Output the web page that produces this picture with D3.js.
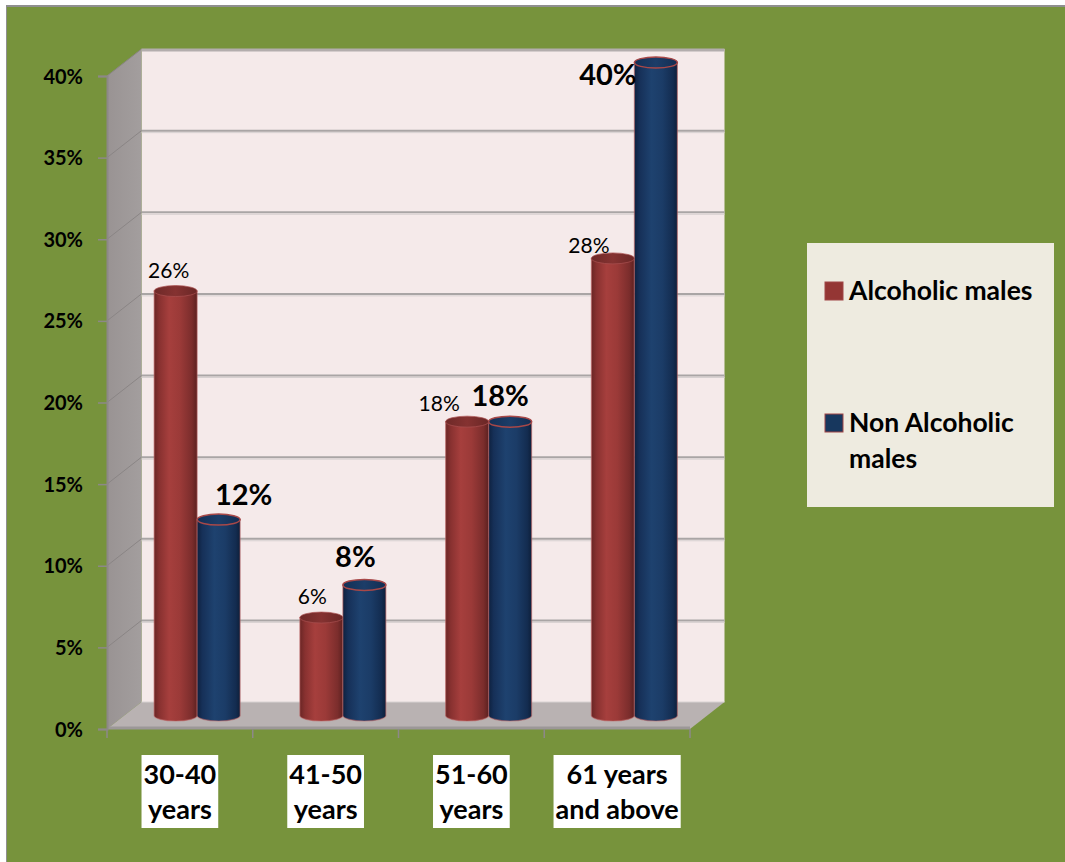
<!DOCTYPE html>
<html>
<head>
<meta charset="utf-8">
<script src="https://cdn.jsdelivr.net/npm/d3@7"></script>
<style>
  html, body { margin: 0; padding: 0; background: #ffffff; }
  svg { display: block; font-family: Lato, "Open Sans", sans-serif; }
</style>
</head>
<body>
<svg id="chart" width="1065" height="862"></svg>
<script>
// Age groups and the share of each group, per series (percent)
const categories = [["30-40", "years"], ["41-50", "years"], ["51-60", "years"], ["61 years", "and above"]];
const seriesNames = ["Alcoholic males", "Non Alcoholic males"];
const alcoholic = [26, 6, 18, 28];
const nonAlcoholic = [12, 8, 18, 40];
const yTicks = [0, 5, 10, 15, 20, 25, 30, 35, 40];

// Label placement tweaks relative to each cylinder's top (px)
const alcLabelNudge = [[-7, -13], [-9, -14], [-28, -11], [-24, -5]];
const nonLabelNudge = [[25, -15], [-9, -18], [-10, -16], [-48, 22]];

const svg = d3.select("#chart");
const W = 1065, H = 862;

// Frame: grey hairline on top/left, olive green fill
svg.append("rect").attr("x", 0).attr("y", 0).attr("width", W).attr("height", H).attr("fill", "#ffffff");
svg.append("rect").attr("x", 6).attr("y", 5).attr("width", W - 6).attr("height", H - 5).attr("fill", "#8f8f8f");
svg.append("rect").attr("x", 7).attr("y", 7).attr("width", W - 7).attr("height", H - 7).attr("fill", "#77933c");

// Plot geometry (front plane + depth offset)
const fx0 = 107, fx1 = 690;
const depthX = 34.5, depthY = -27;
const y = d3.scaleLinear().domain([0, 40]).range([729, 76]);
const x = d3.scaleBand().domain(d3.range(categories.length)).range([fx0, fx1]);
const bw = x.bandwidth();
const cylW = 43;
const xs = d3.scaleBand().domain(d3.range(seriesNames.length)).range([bw / 2 - cylW, bw / 2 + cylW]);
const midX = depthX / 2, midY = depthY / 2;

const defs = svg.append("defs");
function hGrad(id, stops) {
  const g = defs.append("linearGradient").attr("id", id).attr("x1", 0).attr("x2", 1).attr("y1", 0).attr("y2", 0);
  stops.forEach(([o, c]) => g.append("stop").attr("offset", o).attr("stop-color", c));
}
hGrad("redBody", [[0, "#6a2625"], [0.12, "#883130"], [0.35, "#a63f3d"], [0.6, "#9b3a38"], [0.88, "#7b2d2c"], [1, "#5c2120"]]);
hGrad("blueBody", [[0, "#0e213f"], [0.12, "#163058"], [0.4, "#1e426f"], [0.65, "#1b3c67"], [0.9, "#132c50"], [1, "#0d1f3a"]]);
hGrad("redTop", [[0, "#6e2928"], [0.5, "#853231"], [1, "#6a2726"]]);
hGrad("blueTop", [[0, "#142f55"], [0.5, "#1c3d68"], [1, "#132d52"]]);
hGrad("sideWall", [[0, "#999393"], [1, "#a39e9e"]]);

// Back wall
svg.append("rect")
  .attr("x", fx0 + depthX).attr("y", y(40) + depthY)
  .attr("width", fx1 - fx0).attr("height", y(0) - y(40))
  .attr("fill", "#f5eaea");
// top edge of back wall
svg.append("line")
  .attr("x1", fx0 + depthX).attr("x2", fx1 + depthX)
  .attr("y1", y(40) + depthY + 1).attr("y2", y(40) + depthY + 1)
  .attr("stroke", "#b3adad").attr("stroke-width", 3);

// Side wall
svg.append("path")
  .attr("d", `M${fx0},${y(0)} L${fx0},${y(40)} L${fx0 + depthX},${y(40) + depthY} L${fx0 + depthX},${y(0) + depthY} Z`)
  .attr("fill", "url(#sideWall)");

// Floor
svg.append("path")
  .attr("d", `M${fx0},${y(0)} L${fx1},${y(0)} L${fx1 + depthX},${y(0) + depthY} L${fx0 + depthX},${y(0) + depthY} Z`)
  .attr("fill", "#b9b2b2");
svg.append("line")
  .attr("x1", fx0).attr("x2", fx1).attr("y1", y(0) - 1).attr("y2", y(0) - 1)
  .attr("stroke", "#9c9797").attr("stroke-width", 3);
svg.append("line")
  .attr("x1", fx0 + depthX).attr("x2", fx1 + depthX).attr("y1", y(0) + depthY).attr("y2", y(0) + depthY)
  .attr("stroke", "#d8d2d2").attr("stroke-width", 1);

// Gridlines on back wall and side wall
const grid = svg.append("g");
yTicks.filter(v => v > 0 && v < 40).forEach(v => {
  grid.append("line")
    .attr("x1", fx0 + depthX).attr("x2", fx1 + depthX)
    .attr("y1", y(v) + depthY).attr("y2", y(v) + depthY)
    .attr("stroke", "#a9a5a5").attr("stroke-width", 2);
  grid.append("line")
    .attr("x1", fx0 + depthX).attr("x2", fx1 + depthX)
    .attr("y1", y(v) + depthY + 2).attr("y2", y(v) + depthY + 2)
    .attr("stroke", "#d6d0d0").attr("stroke-width", 1);
});
yTicks.filter(v => v > 0).forEach(v => {
  grid.append("line")
    .attr("x1", fx0).attr("x2", fx0 + depthX)
    .attr("y1", y(v)).attr("y2", y(v) + depthY)
    .attr("stroke", "#8a8585").attr("stroke-width", 1);
});

// Value axis
const yAxis = d3.axisLeft(y).tickValues(yTicks).tickSize(9).tickPadding(15)
  .tickFormat(d => d + "%");
const yG = svg.append("g").attr("transform", `translate(${fx0},0)`).call(yAxis);
yG.select(".domain").attr("stroke", "#8d8888").attr("stroke-width", 2);
yG.selectAll(".tick line").attr("stroke", "#8d8888").attr("stroke-width", 1.5);
yG.selectAll(".tick text")
  .attr("fill", "#000").attr("font-size", 20).attr("font-weight", "bold")
  .attr("font-family", "Lato, sans-serif").attr("dy", "0.35em");

// Category tick marks below the floor
const xg = svg.append("g");
const bounds = d3.range(categories.length + 1).map(i => i < categories.length ? x(i) : x(i - 1) + bw);
xg.selectAll("line.ct").data(bounds).join("line")
  .attr("x1", d => d).attr("x2", d => d)
  .attr("y1", y(0)).attr("y2", y(0) + 9)
  .attr("stroke", "#8d8888").attr("stroke-width", 1.5);

// Cylinders
const values = [alcoholic, nonAlcoholic];
const bodyFill = ["url(#redBody)", "url(#blueBody)"];
const topFill = ["url(#redTop)", "url(#blueTop)"];
const ry = 5.5;
const cyl = svg.append("g");
const bars = [];
categories.forEach((c, i) => {
  values.forEach((vals, s) => {
    bars.push({ i, s, v: vals[i] });
  });
});
bars.forEach(d => {
  const cx = x(d.i) + xs(d.s) + cylW / 2 + midX;
  const yb = y(0) + midY;
  const yt = y(d.v) + midY;
  d.cx = cx; d.yt = yt;
  const g = cyl.append("g");
  // pinkish rim around the cylinder
  g.append("path")
    .attr("d", `M${cx - cylW / 2},${yt} L${cx - cylW / 2},${yb} A${cylW / 2},${ry} 0 0 0 ${cx + cylW / 2},${yb} L${cx + cylW / 2},${yt} Z`)
    .attr("fill", bodyFill[d.s])
    .attr("stroke", "rgba(190,100,100,0.55)").attr("stroke-width", 1.2);
  g.append("ellipse")
    .attr("cx", cx).attr("cy", yt).attr("rx", cylW / 2).attr("ry", ry)
    .attr("fill", topFill[d.s])
    .attr("stroke", d.s === 1 ? "#a84848" : "rgba(170,80,80,0.7)").attr("stroke-width", d.s === 1 ? 1.5 : 1);
});

// Data labels
const labels = svg.append("g").attr("font-family", "Lato, sans-serif").attr("text-anchor", "middle").attr("fill", "#000");
bars.forEach(d => {
  const nudge = d.s === 0 ? alcLabelNudge[d.i] : nonLabelNudge[d.i];
  labels.append("text")
    .attr("x", d.cx + nudge[0]).attr("y", d.yt + nudge[1])
    .attr("font-size", d.s === 0 ? 21 : 29)
    .attr("font-weight", d.s === 0 ? "normal" : "bold")
    .text(d.v + "%");
});

// Category labels in white boxes
const catG = svg.append("g");
categories.forEach((lines, i) => {
  const cx = x(i) + bw / 2;
  const g = catG.append("g");
  const rect = g.append("rect").attr("fill", "#ffffff");
  const t = g.append("text")
    .attr("text-anchor", "middle").attr("font-size", 27).attr("font-weight", "bold")
    .attr("font-family", "Lato, sans-serif").attr("fill", "#000");
  lines.forEach((ln, k) => {
    t.append("tspan").attr("x", cx).attr("y", 784 + k * 35).text(ln);
  });
  const bb = t.node().getBBox();
  rect.attr("x", bb.x - 2).attr("y", 755).attr("width", bb.width + 4).attr("height", 73);
});

// Legend
const leg = svg.append("g");
leg.append("rect").attr("x", 807).attr("y", 243).attr("width", 247).attr("height", 264).attr("fill", "#eeebe0");
const legColors = ["#943634", "#17375e"];
const legLines = [["Alcoholic males"], ["Non Alcoholic", "males"]];
const legY = [300, 432];
legLines.forEach((lines, k) => {
  leg.append("rect")
    .attr("x", 825).attr("y", legY[k] - 18).attr("width", 18).attr("height", 18)
    .attr("fill", legColors[k]).attr("stroke", "#a04646").attr("stroke-width", 1);
  const t = leg.append("text").attr("font-size", 26.5).attr("font-weight", "bold")
    .attr("font-family", "Lato, sans-serif").attr("fill", "#000");
  lines.forEach((ln, j) => {
    t.append("tspan").attr("x", 849).attr("y", legY[k] + j * 36).text(ln);
  });
});
</script>
</body>
</html>
